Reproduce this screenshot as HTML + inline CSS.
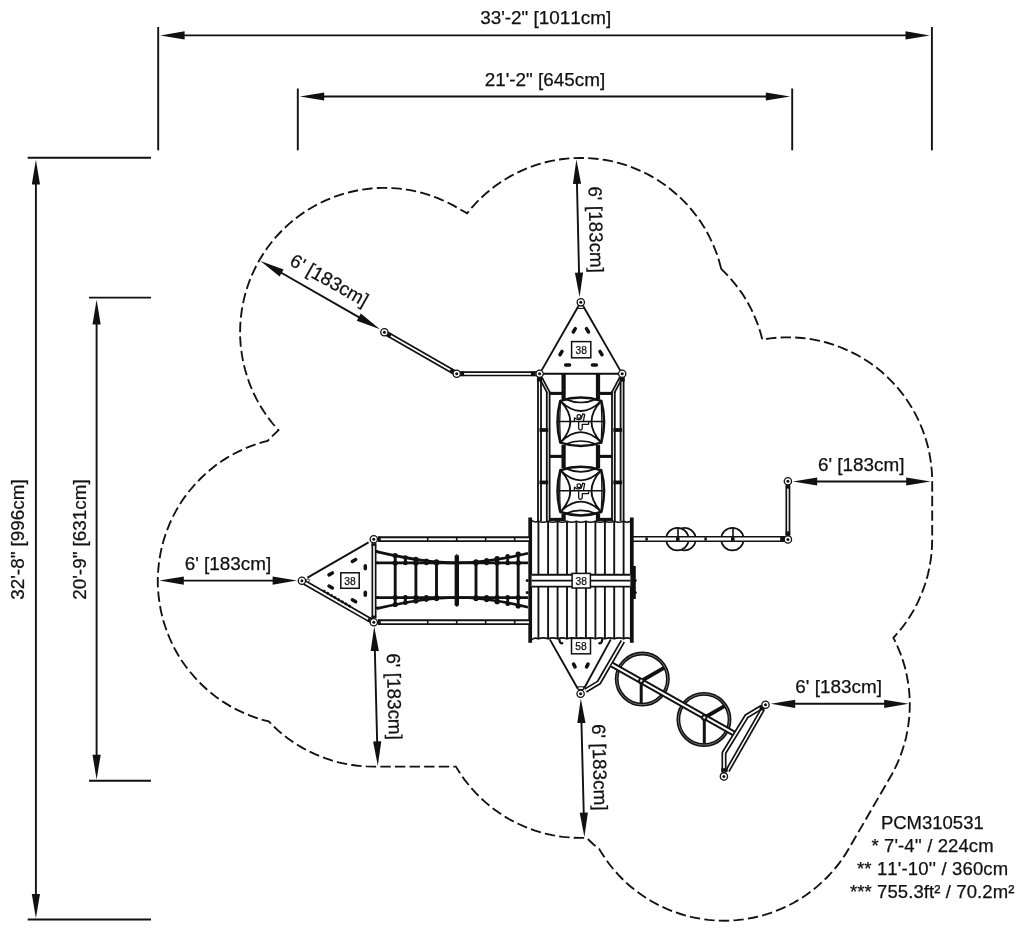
<!DOCTYPE html>
<html>
<head>
<meta charset="utf-8">
<title>PCM310531 Plan</title>
<style>
html,body{margin:0;padding:0;background:#fff;}
body{width:1024px;height:928px;overflow:hidden;font-family:"Liberation Sans",sans-serif;}
svg{display:block;filter:grayscale(1);}
svg text{font-family:"Liberation Sans",sans-serif;fill:#111;stroke:#111;stroke-width:0.25px;font-kerning:none;}
.dim{stroke:#111;stroke-width:1.9;fill:none;}
.arr{fill:#111;stroke:none;}
.t{font-size:18.9px;}
.t6{font-size:18.9px;}
.info{font-size:18.5px;}
</style>
</head>
<body>
<svg width="1024" height="928" viewBox="0 0 1024 928">
<rect width="1024" height="928" fill="#fff"/>
<g class="dim">
<line x1="158.2" y1="27" x2="158.2" y2="150.3"/>
<line x1="931.9" y1="27" x2="931.9" y2="150.3"/>
<line x1="180" y1="35.4" x2="910" y2="35.4"/>
<line x1="297.8" y1="88.5" x2="297.8" y2="150.3"/>
<line x1="792.2" y1="88.5" x2="792.2" y2="150.3"/>
<line x1="320" y1="96.5" x2="770" y2="96.5"/>
<line x1="27.7" y1="157.8" x2="151" y2="157.8"/>
<line x1="27.7" y1="919.5" x2="151" y2="919.5"/>
<line x1="35.9" y1="180" x2="35.9" y2="900"/>
<line x1="89" y1="297.6" x2="151" y2="297.6"/>
<line x1="89" y1="780.8" x2="151" y2="780.8"/>
<line x1="96.6" y1="320" x2="96.6" y2="760"/>
</g>
<g class="arr">
<path d="M160.3 35.4 L184.6 31.3 L184.6 39.5 Z"/>
<path d="M929.8 35.4 L905.5 31.3 L905.5 39.5 Z"/>
<path d="M299.9 96.5 L324.2 92.4 L324.2 100.6 Z"/>
<path d="M790.1 96.5 L765.8 92.4 L765.8 100.6 Z"/>
<path d="M35.9 159.8 L31.8 184.6 L40 184.6 Z"/>
<path d="M35.9 918.2 L31.8 894 L40 894 Z"/>
<path d="M96.6 299.8 L92.5 324.5 L100.7 324.5 Z"/>
<path d="M96.6 779.5 L92.5 754.8 L100.7 754.8 Z"/>
</g>
<g class="t">
<text x="545.7" y="24.3" text-anchor="middle">33'-2" [1011cm]</text>
<text x="545" y="86" text-anchor="middle">21'-2" [645cm]</text>
<text transform="translate(24.2 539.5) rotate(-90)" text-anchor="middle">32'-8" [996cm]</text>
<text transform="translate(85.8 539.5) rotate(-90)" text-anchor="middle">20'-9" [631cm]</text>
</g>
<path id="outline" d="M721.2 268.8 L718.9 260.3 L717.8 256.9 L716.7 253.6 L714.1 247.0 L712.7 243.7 L709.7 237.3 L706.4 231.1 L704.6 228.0 L700.8 222.0 L698.8 219.1 L696.7 216.2 L692.3 210.7 L687.7 205.3 L685.3 202.7 L680.3 197.7 L677.7 195.3 L672.3 190.7 L666.8 186.3 L663.9 184.2 L658.0 180.3 L651.9 176.6 L648.8 174.9 L645.7 173.3 L639.3 170.3 L632.7 167.6 L629.4 166.3 L622.7 164.1 L619.3 163.1 L612.4 161.4 L609.0 160.7 L605.5 160.0 L598.5 159.0 L591.4 158.3 L587.9 158.1 L580.8 157.9 L573.7 158.1 L566.7 158.6 L563.1 159.0 L559.6 159.5 L552.6 160.7 L549.2 161.4 L542.3 163.1 L535.5 165.2 L528.9 167.6 L525.6 168.9 L519.1 171.8 L515.9 173.3 L509.7 176.6 L503.6 180.3 L500.6 182.2 L494.8 186.3 L489.3 190.7 L486.5 192.9 L481.3 197.7 L476.3 202.7 L473.9 205.3 L471.5 207.9 L467.1 213.3 L453.3 205.4 L447.0 202.2 L440.5 199.3 L437.2 197.9 L430.6 195.5 L427.2 194.4 L423.8 193.4 L417.0 191.6 L410.0 190.2 L406.5 189.6 L399.5 188.7 L392.4 188.1 L385.4 187.9 L381.8 187.9 L378.3 188.0 L371.2 188.5 L364.2 189.3 L360.7 189.9 L357.2 190.5 L350.3 192.0 L343.4 193.8 L340.1 194.9 L333.4 197.2 L326.8 199.9 L323.6 201.3 L317.2 204.5 L314.1 206.2 L308.0 209.8 L305.0 211.7 L299.2 215.7 L293.6 220.0 L288.2 224.6 L283.1 229.5 L280.6 232.0 L275.8 237.2 L271.2 242.7 L267.0 248.3 L263.0 254.2 L259.3 260.2 L255.9 266.5 L252.9 272.8 L250.1 279.4 L247.7 286.0 L245.6 292.8 L243.8 299.6 L243.1 303.1 L241.8 310.1 L240.9 317.1 L240.3 324.2 L240.1 331.2 L240.2 338.3 L240.7 345.4 L241.1 348.9 L242.1 355.9 L243.4 362.9 L245.1 369.8 L247.1 376.5 L249.4 383.2 L252.1 389.8 L253.5 393.0 L256.7 399.4 L260.1 405.6 L263.9 411.6 L267.9 417.4 L272.2 423.0 L278.5 430.2 L274.1 434.3 L267.6 440.9 L263.6 441.9 L256.8 444.0 L250.2 446.4 L246.9 447.7 L240.4 450.6 L234.1 453.7 L231.0 455.4 L224.9 459.1 L221.9 461.0 L216.1 465.1 L210.6 469.5 L205.2 474.1 L200.1 479.0 L195.2 484.1 L190.6 489.5 L188.3 492.2 L184.1 497.9 L182.1 500.8 L180.2 503.8 L176.5 509.9 L173.2 516.1 L170.2 522.5 L168.8 525.8 L166.2 532.4 L165.1 535.7 L164.0 539.1 L162.1 545.9 L160.6 552.8 L159.4 559.8 L158.9 563.3 L158.2 570.4 L157.8 577.5 L157.8 584.5 L158.0 588.1 L158.5 595.1 L159.4 602.2 L160.6 609.2 L162.1 616.1 L164.0 622.9 L165.1 626.3 L167.5 632.9 L170.2 639.5 L173.2 645.9 L174.8 649.0 L178.3 655.2 L182.1 661.2 L186.2 667.0 L190.6 672.5 L195.2 677.9 L200.1 683.0 L202.6 685.5 L207.8 690.3 L213.3 694.8 L216.1 696.9 L221.9 701.0 L224.9 702.9 L231.0 706.6 L237.2 709.9 L243.6 712.9 L250.2 715.6 L256.8 718.0 L263.6 720.1 L268.7 721.4 L274.1 726.8 L279.3 731.6 L282.1 733.8 L287.6 738.2 L293.4 742.3 L296.4 744.2 L302.5 747.9 L308.7 751.2 L315.1 754.2 L321.7 756.9 L325.0 758.2 L331.7 760.4 L338.5 762.3 L342.0 763.1 L348.9 764.5 L352.4 765.0 L355.9 765.5 L363.0 766.2 L366.5 766.4 L373.6 766.6 L455.9 766.6 L460.4 773.8 L464.5 779.6 L468.9 785.1 L471.1 787.9 L475.9 793.1 L480.9 798.1 L486.1 802.9 L491.6 807.4 L494.4 809.5 L500.2 813.6 L506.2 817.4 L509.3 819.2 L512.4 820.9 L518.7 824.0 L525.2 826.9 L528.5 828.2 L535.1 830.6 L541.9 832.7 L545.3 833.6 L552.2 835.1 L559.2 836.3 L562.7 836.8 L566.3 837.2 L573.3 837.7 L580.4 837.9 L586.5 837.8 L593.3 844.2 L599.4 849.3 L601.2 852.3 L605.1 858.3 L609.2 864.0 L613.7 869.5 L618.4 874.8 L623.3 879.9 L628.5 884.7 L631.2 887.0 L634.0 889.2 L639.6 893.5 L645.4 897.5 L651.5 901.2 L657.7 904.6 L660.9 906.2 L667.3 909.1 L673.9 911.8 L680.6 914.0 L687.4 916.0 L690.8 916.9 L694.3 917.6 L701.3 918.9 L708.3 919.9 L711.8 920.2 L718.9 920.6 L726.0 920.7 L733.0 920.4 L736.6 920.1 L743.6 919.3 L747.1 918.8 L754.1 917.5 L761.0 915.9 L767.7 913.9 L771.1 912.8 L774.4 911.6 L781.0 908.9 L787.4 906.0 L793.7 902.7 L796.8 900.9 L799.8 899.1 L805.8 895.2 L811.5 891.1 L817.0 886.6 L822.3 881.9 L827.4 877.0 L829.8 874.4 L834.5 869.1 L838.9 863.6 L841.0 860.7 L845.0 854.9 L848.7 848.8 L892.1 774.0 L895.3 767.7 L896.8 764.5 L899.6 758.0 L902.0 751.4 L904.2 744.6 L906.0 737.8 L907.4 730.8 L908.5 723.8 L909.3 716.8 L909.7 709.7 L909.8 702.6 L909.5 695.6 L908.9 688.5 L907.9 681.5 L906.6 674.5 L905.0 667.6 L903.0 660.9 L900.7 654.2 L898.0 647.6 L895.1 641.2 L893.4 637.9 L899.4 630.9 L901.7 628.2 L905.9 622.5 L907.9 619.6 L911.7 613.6 L913.5 610.5 L916.8 604.3 L918.3 601.1 L921.2 594.6 L922.5 591.3 L924.9 584.7 L926.0 581.3 L927.9 574.5 L929.4 567.6 L930.6 560.6 L931.5 553.5 L932.0 546.5 L932.2 539.4 L932.2 478.1 L931.8 471.0 L931.1 463.9 L930.6 460.4 L929.4 453.4 L927.9 446.5 L926.0 439.7 L924.9 436.3 L922.5 429.7 L919.8 423.1 L918.3 419.9 L915.2 413.6 L911.7 407.4 L907.9 401.4 L903.8 395.6 L901.7 392.8 L897.2 387.3 L892.4 382.1 L887.4 377.1 L884.8 374.7 L882.2 372.3 L876.7 367.8 L871.0 363.6 L865.1 359.7 L859.0 356.0 L855.9 354.3 L849.6 351.2 L843.1 348.3 L839.8 347.0 L833.2 344.6 L826.4 342.5 L819.5 340.8 L812.6 339.4 L805.6 338.4 L802.0 338.0 L795.0 337.5 L791.4 337.3 L784.4 337.3 L777.3 337.7 L770.2 338.4 L762.4 339.6 L760.3 331.9 L758.1 325.2 L756.8 321.9 L754.1 315.3 L752.6 312.1 L751.1 308.9 L747.8 302.7 L744.1 296.6 L742.2 293.6 L738.1 287.8 L733.7 282.3 L729.1 276.9 L724.2 271.8 Z" fill="none" stroke="#111" stroke-width="1.85" stroke-dasharray="10.4 4.2"/>
<g id="equip" stroke-linecap="butt">
<path d="M384.4 332.2 L456.7 373.8 L539.6 373.8" fill="none" stroke="#111" stroke-width="5.09" stroke-linejoin="round"/>
<path d="M384.4 332.2 L456.7 373.8 L539.6 373.8" fill="none" stroke="#fff" stroke-width="1.71" stroke-linejoin="round"/>
<circle cx="677.4" cy="539.1" r="11.3" fill="none" stroke="#111" stroke-width="1.7"/>
<path d="M680.9 528.5 A11.2 11.2 0 1 1 680.9 549.7" fill="none" stroke="#111" stroke-width="1.7"/>
<circle cx="732.4" cy="539.1" r="11.3" fill="none" stroke="#111" stroke-width="1.7"/>
<line x1="633.0" y1="539.0" x2="784.9" y2="539.0" stroke="#111" stroke-width="6.19" />
<line x1="633.0" y1="539.0" x2="784.9" y2="539.0" stroke="#fff" stroke-width="2.81" />
<rect x="780.2" y="536.2" width="4" height="5.6" fill="#111"/>
<line x1="646.6" y1="537.4" x2="646.6" y2="540.6" stroke="#111" stroke-width="2.5" />
<line x1="705.6" y1="537.4" x2="705.6" y2="540.6" stroke="#111" stroke-width="2.5" />
<line x1="787.9" y1="485.2" x2="787.9" y2="535.4" stroke="#111" stroke-width="4.89" />
<line x1="787.9" y1="485.2" x2="787.9" y2="535.4" stroke="#fff" stroke-width="1.51" />
<line x1="678.0" y1="528.2" x2="678.0" y2="537.0" stroke="#111" stroke-width="1.62" />
<rect x="676.0" y="537.2" width="3.6" height="3.6" fill="#111"/>
<line x1="733.0" y1="528.2" x2="733.0" y2="537.0" stroke="#111" stroke-width="1.62" />
<rect x="731.0" y="537.2" width="3.6" height="3.6" fill="#111"/>
<path d="M578.5999999999999 305.8 L541.6 370.40000000000003 M583.0 305.8 L620.2 370.40000000000003 M543.1 373.7 L618.7 373.7" stroke="#111" stroke-width="1.9" fill="none"/>
<rect x="578.1999999999999" y="305.8" width="5.2" height="2.6" fill="#fff" stroke="#111" stroke-width="1"/>
<rect x="571.6" y="341.6" width="19.2" height="16.2" fill="#fff" stroke="#111" stroke-width="1.5"/>
<text x="581.2" y="354.0" font-size="10.2" text-anchor="middle" fill="#222">38</text>
<rect x="-3.70" y="-1.75" width="7.4" height="3.5" rx="1.75" fill="#111" transform="translate(574.3 330.3) rotate(-58)"/>
<rect x="-3.70" y="-1.75" width="7.4" height="3.5" rx="1.75" fill="#111" transform="translate(587.5 330.3) rotate(58)"/>
<rect x="-3.70" y="-1.75" width="7.4" height="3.5" rx="1.75" fill="#111" transform="translate(561.0 353.1) rotate(-58)"/>
<rect x="-3.70" y="-1.75" width="7.4" height="3.5" rx="1.75" fill="#111" transform="translate(601.0 353.1) rotate(58)"/>
<rect x="-3.70" y="-1.75" width="7.4" height="3.5" rx="1.75" fill="#111" transform="translate(567.6 365.0) rotate(0)"/>
<rect x="-3.70" y="-1.75" width="7.4" height="3.5" rx="1.75" fill="#111" transform="translate(594.4 365.0) rotate(0)"/>
<line x1="539.5" y1="377.0" x2="539.5" y2="521.0" stroke="#111" stroke-width="4.82" />
<line x1="539.5" y1="377.0" x2="539.5" y2="521.0" stroke="#fff" stroke-width="1.18" />
<line x1="548.2" y1="391.0" x2="548.2" y2="521.0" stroke="#111" stroke-width="4.62" />
<line x1="548.2" y1="391.0" x2="548.2" y2="521.0" stroke="#fff" stroke-width="0.98" />
<line x1="540.8" y1="378.0" x2="548.2" y2="392.0" stroke="#111" stroke-width="4.29" />
<line x1="540.8" y1="378.0" x2="548.2" y2="392.0" stroke="#fff" stroke-width="0.91" />
<line x1="563.6" y1="373.0" x2="563.6" y2="399.0" stroke="#111" stroke-width="4.25" />
<line x1="563.6" y1="445.0" x2="563.6" y2="468.0" stroke="#111" stroke-width="4.25" />
<line x1="563.6" y1="514.0" x2="563.6" y2="521.0" stroke="#111" stroke-width="4.25" />
<line x1="549.2" y1="393.4" x2="563.6" y2="393.4" stroke="#111" stroke-width="3.12" />
<line x1="549.2" y1="456.4" x2="563.6" y2="456.4" stroke="#111" stroke-width="3.12" />
<line x1="549.2" y1="519.4" x2="563.6" y2="519.4" stroke="#111" stroke-width="3.12" />
<line x1="539.5" y1="430.0" x2="548.2" y2="430.0" stroke="#111" stroke-width="3.75" />
<line x1="539.5" y1="482.4" x2="548.2" y2="482.4" stroke="#111" stroke-width="3.75" />
<line x1="622.1" y1="377.0" x2="622.1" y2="521.0" stroke="#111" stroke-width="4.82" />
<line x1="622.1" y1="377.0" x2="622.1" y2="521.0" stroke="#fff" stroke-width="1.18" />
<line x1="613.4" y1="391.0" x2="613.4" y2="521.0" stroke="#111" stroke-width="4.62" />
<line x1="613.4" y1="391.0" x2="613.4" y2="521.0" stroke="#fff" stroke-width="0.98" />
<line x1="620.8" y1="378.0" x2="613.4" y2="392.0" stroke="#111" stroke-width="4.29" />
<line x1="620.8" y1="378.0" x2="613.4" y2="392.0" stroke="#fff" stroke-width="0.91" />
<line x1="598.0" y1="373.0" x2="598.0" y2="399.0" stroke="#111" stroke-width="4.25" />
<line x1="598.0" y1="445.0" x2="598.0" y2="468.0" stroke="#111" stroke-width="4.25" />
<line x1="598.0" y1="514.0" x2="598.0" y2="521.0" stroke="#111" stroke-width="4.25" />
<line x1="612.4" y1="393.4" x2="598.0" y2="393.4" stroke="#111" stroke-width="3.12" />
<line x1="612.4" y1="456.4" x2="598.0" y2="456.4" stroke="#111" stroke-width="3.12" />
<line x1="612.4" y1="519.4" x2="598.0" y2="519.4" stroke="#111" stroke-width="3.12" />
<line x1="622.1" y1="430.0" x2="613.4" y2="430.0" stroke="#111" stroke-width="3.75" />
<line x1="622.1" y1="482.4" x2="613.4" y2="482.4" stroke="#111" stroke-width="3.75" />
<rect x="536.9" y="377.6" width="5.2" height="4" fill="#111"/>
<rect x="619.5" y="377.6" width="5.2" height="4" fill="#111"/>
<path d="M560.3 400.9 Q580.8 394.1 601.3 400.9 Q606.9 421.75 601.3 442.6 Q580.8 449.4 560.3 442.6 Q554.7 421.75 560.3 400.9 Z" fill="#fff" stroke="#111" stroke-width="2.5" stroke-linejoin="round"/>
<path d="M565.4 399.1 Q580.8 405.9 596.2 399.1 M565.4 444.4 Q580.8 437.6 596.2 444.4" fill="none" stroke="#111" stroke-width="1.7"/>
<path d="M560.3 400.9 Q580.8 421.2 601.3 400.9 M560.3 442.6 Q580.8 421.8 601.3 442.6 M560.3 400.9 Q580.3 421.75 560.3 442.6 M601.3 400.9 Q581.7 421.75 601.3 442.6" fill="none" stroke="#111" stroke-width="1.8"/>
<path d="M560.3 402.9 Q559.1 421.75 560.3 440.6 M601.3 402.9 Q602.5 421.75 601.3 440.6" fill="none" stroke="#111" stroke-width="1.3"/>
<line x1="557.1" y1="421.4" x2="604.5" y2="421.4" stroke="#111" stroke-width="1.5"/>
<circle cx="578.95" cy="416.40" r="1.9" fill="none" stroke="#111" stroke-width="1.25"/>
<path d="M574.30 421.15 L574.50 417.85 L576.90 419.25 Q579.30 420.15 581.20 418.65 L582.70 413.85 L584.70 414.35 L583.40 421.15" fill="none" stroke="#111" stroke-width="1.3" stroke-linejoin="round"/>
<path d="M578.65 421.95 L578.65 428.25 Q578.65 430.05 580.45 430.05 Q582.25 430.05 582.25 428.25 L582.25 424.35 L588.40 424.25 L588.80 422.15" fill="none" stroke="#111" stroke-width="1.3" stroke-linejoin="round"/>
<path d="M560.3 470.2 Q580.8 463.4 601.3 470.2 Q606.9 491.1 601.3 512.0 Q580.8 518.8 560.3 512.0 Q554.7 491.1 560.3 470.2 Z" fill="#fff" stroke="#111" stroke-width="2.5" stroke-linejoin="round"/>
<path d="M565.4 468.4 Q580.8 475.2 596.2 468.4 M565.4 513.8 Q580.8 507.0 596.2 513.8" fill="none" stroke="#111" stroke-width="1.7"/>
<path d="M560.3 470.2 Q580.8 490.6 601.3 470.2 M560.3 512.0 Q580.8 491.2 601.3 512.0 M560.3 470.2 Q580.3 491.1 560.3 512.0 M601.3 470.2 Q581.7 491.1 601.3 512.0" fill="none" stroke="#111" stroke-width="1.8"/>
<path d="M560.3 472.2 Q559.1 491.1 560.3 510.0 M601.3 472.2 Q602.5 491.1 601.3 510.0" fill="none" stroke="#111" stroke-width="1.3"/>
<line x1="557.1" y1="490.8" x2="604.5" y2="490.8" stroke="#111" stroke-width="1.5"/>
<circle cx="578.95" cy="485.75" r="1.9" fill="none" stroke="#111" stroke-width="1.25"/>
<path d="M574.30 490.50 L574.50 487.20 L576.90 488.60 Q579.30 489.50 581.20 488.00 L582.70 483.20 L584.70 483.70 L583.40 490.50" fill="none" stroke="#111" stroke-width="1.3" stroke-linejoin="round"/>
<path d="M578.65 491.30 L578.65 497.60 Q578.65 499.40 580.45 499.40 Q582.25 499.40 582.25 497.60 L582.25 493.70 L588.40 493.60 L588.80 491.50" fill="none" stroke="#111" stroke-width="1.3" stroke-linejoin="round"/>
<rect x="531" y="521.8" width="100" height="116.6" fill="#fff"/>
<line x1="538.4" y1="521.5" x2="538.4" y2="638.5" stroke="#111" stroke-width="1.88" />
<line x1="548.1" y1="521.5" x2="548.1" y2="638.5" stroke="#111" stroke-width="1.88" />
<line x1="557.6" y1="521.5" x2="557.6" y2="638.5" stroke="#111" stroke-width="1.88" />
<line x1="567.0" y1="521.5" x2="567.0" y2="638.5" stroke="#111" stroke-width="1.88" />
<line x1="576.4" y1="521.5" x2="576.4" y2="638.5" stroke="#111" stroke-width="1.88" />
<line x1="585.9" y1="521.5" x2="585.9" y2="638.5" stroke="#111" stroke-width="1.88" />
<line x1="595.4" y1="521.5" x2="595.4" y2="638.5" stroke="#111" stroke-width="1.88" />
<line x1="604.9" y1="521.5" x2="604.9" y2="638.5" stroke="#111" stroke-width="1.88" />
<line x1="614.2" y1="521.5" x2="614.2" y2="638.5" stroke="#111" stroke-width="1.88" />
<line x1="623.6" y1="521.5" x2="623.6" y2="638.5" stroke="#111" stroke-width="1.88" />
<path d="M531.5 520.4 Q535.0 523.1 538.4 521.3 Q543.2 523.1 548.1 521.3 Q552.9 523.1 557.6 521.3 Q562.3 523.1 567 521.3 Q571.7 523.1 576.4 521.3 Q581.1 523.1 585.9 521.3 Q590.6 523.1 595.4 521.3 Q600.1 523.1 604.9 521.3 Q609.5 523.1 614.2 521.3 Q618.9 523.1 623.6 521.3 Q627.0 523.1 630.5 521.3" fill="none" stroke="#111" stroke-width="1.6"/>
<path d="M531.5 639.7 Q535.0 637.0 538.4 638.8 Q543.2 637.0 548.1 638.8 Q552.9 637.0 557.6 638.8 Q562.3 637.0 567 638.8 Q571.7 637.0 576.4 638.8 Q581.1 637.0 585.9 638.8 Q590.6 637.0 595.4 638.8 Q600.1 637.0 604.9 638.8 Q609.5 637.0 614.2 638.8 Q618.9 637.0 623.6 638.8 Q627.0 637.0 630.5 638.8" fill="none" stroke="#111" stroke-width="1.6"/>
<line x1="530.2" y1="517.5" x2="530.2" y2="642.8" stroke="#111" stroke-width="3.75" />
<line x1="631.8" y1="517.5" x2="631.8" y2="642.8" stroke="#111" stroke-width="3.75" />
<line x1="634.3" y1="566.0" x2="634.3" y2="599.0" stroke="#111" stroke-width="3.0" />
<circle cx="527.2" cy="580.6" r="1.5" fill="#111"/><circle cx="527.2" cy="592.6" r="1.5" fill="#111"/><circle cx="635.4" cy="580.6" r="1.4" fill="#111"/><circle cx="635.4" cy="592.6" r="1.4" fill="#111"/>
<rect x="531.6" y="574.4" width="98.8" height="12.4" fill="#fff"/>
<line x1="531.6" y1="574.8" x2="630.4" y2="574.8" stroke="#111" stroke-width="1.88" />
<line x1="531.6" y1="580.6" x2="630.4" y2="580.6" stroke="#111" stroke-width="1.88" />
<line x1="531.6" y1="586.6" x2="630.4" y2="586.6" stroke="#111" stroke-width="1.88" />
<rect x="572.1" y="573.4" width="18.3" height="14.6" fill="#fff" stroke="#111" stroke-width="1.5"/>
<text x="581.2" y="585.0" font-size="10.2" text-anchor="middle" fill="#222">38</text>
<path d="M549.8 639.4 L577.8000000000001 688.8 M610.8 639.4 L584.2 688.1999999999999" stroke="#111" stroke-width="1.9" fill="none"/>
<rect x="571.5" y="638.4" width="19.0" height="15.4" fill="#fff" stroke="#111" stroke-width="1.5"/>
<text x="581.0" y="650.4" font-size="10.2" text-anchor="middle" fill="#222">58</text>
<rect x="-3.30" y="-1.80" width="6.6" height="3.6" rx="1.8" fill="#111" transform="translate(574.3 665.5) rotate(62)"/>
<rect x="-3.30" y="-1.80" width="6.6" height="3.6" rx="1.8" fill="#111" transform="translate(587.3 665.5) rotate(-62)"/>
<path d="M559.4 639.5 Q559.8 644 562.2 643.2" stroke="#111" stroke-width="2.3" fill="none" stroke-linecap="round"/><path d="M602.2 639.5 Q601.8 644 599.4 643.2" stroke="#111" stroke-width="2.3" fill="none" stroke-linecap="round"/>
<path d="M622.8 641.2 L598.8 682.6 L585.5 690.6" fill="none" stroke="#111" stroke-width="5.09" stroke-linejoin="round"/>
<path d="M622.8 641.2 L598.8 682.6 L585.5 690.6" fill="none" stroke="#fff" stroke-width="1.71" stroke-linejoin="round"/>
<rect x="578.0" y="686.8" width="5.6" height="2.6" fill="#fff" stroke="#111" stroke-width="1"/>
<line x1="377.8" y1="539.2" x2="529.0" y2="539.2" stroke="#111" stroke-width="5.72" />
<line x1="377.8" y1="539.2" x2="529.0" y2="539.2" stroke="#fff" stroke-width="2.08" />
<line x1="377.8" y1="622.2" x2="529.0" y2="622.2" stroke="#111" stroke-width="5.72" />
<line x1="377.8" y1="622.2" x2="529.0" y2="622.2" stroke="#fff" stroke-width="2.08" />
<line x1="378.7" y1="539.2" x2="380.3" y2="539.2" stroke="#111" stroke-width="3.25" />
<line x1="378.7" y1="622.2" x2="380.3" y2="622.2" stroke="#111" stroke-width="3.25" />
<line x1="426.9" y1="539.2" x2="428.5" y2="539.2" stroke="#111" stroke-width="3.25" />
<line x1="426.9" y1="622.2" x2="428.5" y2="622.2" stroke="#111" stroke-width="3.25" />
<line x1="455.9" y1="539.2" x2="457.5" y2="539.2" stroke="#111" stroke-width="3.25" />
<line x1="455.9" y1="622.2" x2="457.5" y2="622.2" stroke="#111" stroke-width="3.25" />
<line x1="484.9" y1="539.2" x2="486.5" y2="539.2" stroke="#111" stroke-width="3.25" />
<line x1="484.9" y1="622.2" x2="486.5" y2="622.2" stroke="#111" stroke-width="3.25" />
<line x1="513.9" y1="539.2" x2="515.5" y2="539.2" stroke="#111" stroke-width="3.25" />
<line x1="513.9" y1="622.2" x2="515.5" y2="622.2" stroke="#111" stroke-width="3.25" />
<line x1="374.0" y1="543.2" x2="374.0" y2="618.2" stroke="#111" stroke-width="4.99" />
<line x1="374.0" y1="543.2" x2="374.0" y2="618.2" stroke="#fff" stroke-width="1.61" />
<line x1="376.5" y1="562.9" x2="528.0" y2="562.9" stroke="#111" stroke-width="2.75" />
<line x1="376.5" y1="597.5" x2="528.0" y2="597.5" stroke="#111" stroke-width="2.75" />
<path d="M376.5 551.6 Q425 562.9 456.8 562.9 Q488 562.9 528 553.2" fill="none" stroke="#111" stroke-width="2.7"/>
<path d="M376.5 608.6 Q425 597.5 456.8 597.5 Q488 597.5 528 607.2" fill="none" stroke="#111" stroke-width="2.7"/>
<line x1="395.2" y1="554.1" x2="395.2" y2="606.0" stroke="#111" stroke-width="2.88" />
<circle cx="395.2" cy="555.6" r="2.6" fill="#111"/>
<circle cx="395.2" cy="562.9" r="2.6" fill="#111"/>
<circle cx="395.2" cy="597.5" r="2.6" fill="#111"/>
<circle cx="395.2" cy="604.5" r="2.6" fill="#111"/>
<line x1="415.9" y1="557.8" x2="415.9" y2="602.5" stroke="#111" stroke-width="2.88" />
<circle cx="415.9" cy="559.3" r="2.6" fill="#111"/>
<circle cx="415.9" cy="562.9" r="2.6" fill="#111"/>
<circle cx="415.9" cy="597.5" r="2.6" fill="#111"/>
<circle cx="415.9" cy="601.0" r="2.6" fill="#111"/>
<line x1="436.5" y1="560.4" x2="436.5" y2="600.0" stroke="#111" stroke-width="2.88" />
<circle cx="436.5" cy="561.9" r="2.6" fill="#111"/>
<circle cx="436.5" cy="562.9" r="2.6" fill="#111"/>
<circle cx="436.5" cy="597.5" r="2.6" fill="#111"/>
<circle cx="436.5" cy="598.5" r="2.6" fill="#111"/>
<line x1="476.0" y1="560.3" x2="476.0" y2="600.1" stroke="#111" stroke-width="2.88" />
<circle cx="476" cy="561.8" r="2.6" fill="#111"/>
<circle cx="476" cy="562.9" r="2.6" fill="#111"/>
<circle cx="476" cy="597.5" r="2.6" fill="#111"/>
<circle cx="476" cy="598.6" r="2.6" fill="#111"/>
<line x1="497.1" y1="557.1" x2="497.1" y2="603.2" stroke="#111" stroke-width="2.88" />
<circle cx="497.1" cy="558.6" r="2.6" fill="#111"/>
<circle cx="497.1" cy="562.9" r="2.6" fill="#111"/>
<circle cx="497.1" cy="597.5" r="2.6" fill="#111"/>
<circle cx="497.1" cy="601.7" r="2.6" fill="#111"/>
<line x1="518.2" y1="552.6" x2="518.2" y2="607.5" stroke="#111" stroke-width="2.88" />
<circle cx="518.2" cy="554.1" r="2.6" fill="#111"/>
<circle cx="518.2" cy="562.9" r="2.6" fill="#111"/>
<circle cx="518.2" cy="597.5" r="2.6" fill="#111"/>
<circle cx="518.2" cy="606.0" r="2.6" fill="#111"/>
<line x1="456.8" y1="555.6" x2="456.8" y2="605.2" stroke="#111" stroke-width="4.38" />
<path d="M454.6 555.8 L456.8 553.9 L459.0 555.8 Z M454.6 605 L456.8 606.9 L459.0 605 Z" fill="#111"/>
<line x1="405.4" y1="556.6" x2="405.4" y2="563.9" stroke="#111" stroke-width="2.75" />
<line x1="405.4" y1="596.5" x2="405.4" y2="603.7" stroke="#111" stroke-width="2.75" />
<circle cx="405.4" cy="557.6" r="2.4" fill="#111"/>
<circle cx="405.4" cy="562.9" r="2.4" fill="#111"/>
<circle cx="405.4" cy="597.5" r="2.4" fill="#111"/>
<circle cx="405.4" cy="602.7" r="2.4" fill="#111"/>
<line x1="426.4" y1="559.8" x2="426.4" y2="563.9" stroke="#111" stroke-width="2.75" />
<line x1="426.4" y1="596.5" x2="426.4" y2="600.5" stroke="#111" stroke-width="2.75" />
<circle cx="426.4" cy="560.8" r="2.4" fill="#111"/>
<circle cx="426.4" cy="562.9" r="2.4" fill="#111"/>
<circle cx="426.4" cy="597.5" r="2.4" fill="#111"/>
<circle cx="426.4" cy="599.5" r="2.4" fill="#111"/>
<line x1="486.6" y1="559.4" x2="486.6" y2="563.9" stroke="#111" stroke-width="2.75" />
<line x1="486.6" y1="596.5" x2="486.6" y2="600.9" stroke="#111" stroke-width="2.75" />
<circle cx="486.6" cy="560.4" r="2.4" fill="#111"/>
<circle cx="486.6" cy="562.9" r="2.4" fill="#111"/>
<circle cx="486.6" cy="597.5" r="2.4" fill="#111"/>
<circle cx="486.6" cy="599.9" r="2.4" fill="#111"/>
<line x1="507.7" y1="555.4" x2="507.7" y2="563.9" stroke="#111" stroke-width="2.75" />
<line x1="507.7" y1="596.5" x2="507.7" y2="604.7" stroke="#111" stroke-width="2.75" />
<circle cx="507.7" cy="556.4" r="2.4" fill="#111"/>
<circle cx="507.7" cy="562.9" r="2.4" fill="#111"/>
<circle cx="507.7" cy="597.5" r="2.4" fill="#111"/>
<circle cx="507.7" cy="603.7" r="2.4" fill="#111"/>
<circle cx="377" cy="551.4" r="1.4" fill="#111"/>
<circle cx="377" cy="562.9" r="1.4" fill="#111"/>
<circle cx="377" cy="597.5" r="1.4" fill="#111"/>
<circle cx="377" cy="607.8" r="1.4" fill="#111"/>
<line x1="307.5" y1="577.6" x2="368.6" y2="542.4" stroke="#111" stroke-width="1.88" />
<line x1="304.4" y1="582.4" x2="371.3" y2="620.8" stroke="#111" stroke-width="5.29" />
<line x1="304.4" y1="582.4" x2="371.3" y2="620.8" stroke="#fff" stroke-width="1.91" />
<circle cx="307.9" cy="580.4" r="1.5" fill="#fff" stroke="#111" stroke-width="0.9"/>
<line x1="323" y1="590.5" x2="352" y2="607.5" stroke="#111" stroke-width="2.6" stroke-dasharray="2.6 1.6"/>
<rect x="340.8" y="572.8" width="18.4" height="15.5" fill="#fff" stroke="#111" stroke-width="1.5"/>
<text x="350.0" y="584.8" font-size="10.2" text-anchor="middle" fill="#222">38</text>
<rect x="-3.70" y="-1.75" width="7.4" height="3.5" rx="1.75" fill="#111" transform="translate(354.0 560.5) rotate(-30)"/>
<rect x="-3.20" y="-1.75" width="6.4" height="3.5" rx="1.75" fill="#111" transform="translate(365.3 567.2) rotate(90)"/>
<rect x="-3.70" y="-1.75" width="7.4" height="3.5" rx="1.75" fill="#111" transform="translate(330.7 573.9) rotate(-30)"/>
<rect x="-3.70" y="-1.75" width="7.4" height="3.5" rx="1.75" fill="#111" transform="translate(330.7 587.0) rotate(30)"/>
<rect x="-3.20" y="-1.75" width="6.4" height="3.5" rx="1.75" fill="#111" transform="translate(365.3 593.8) rotate(90)"/>
<rect x="-3.70" y="-1.75" width="7.4" height="3.5" rx="1.75" fill="#111" transform="translate(354.0 600.8) rotate(30)"/>
<circle cx="642.3" cy="679.1" r="25.6" fill="none" stroke="#111" stroke-width="3.8"/>
<circle cx="642.3" cy="679.1" r="25.6" fill="none" stroke="#9a9a9a" stroke-width="0.7"/>
<line x1="641.2" y1="681.0" x2="664.0" y2="667.9" stroke="#111" stroke-width="3.9"/>
<line x1="641.2" y1="681.0" x2="641.2" y2="703.5" stroke="#111" stroke-width="3.0"/>
<circle cx="703.95" cy="719.45" r="25.6" fill="none" stroke="#111" stroke-width="3.8"/>
<circle cx="703.95" cy="719.45" r="25.6" fill="none" stroke="#9a9a9a" stroke-width="0.7"/>
<line x1="704.3" y1="717.7" x2="724.4" y2="706.1" stroke="#111" stroke-width="3.9"/>
<line x1="704.3" y1="717.7" x2="704.3" y2="743.8" stroke="#111" stroke-width="3.0"/>
<line x1="611.9" y1="664.6" x2="734.2" y2="733.6" stroke="#111" stroke-width="5.95" />
<line x1="611.9" y1="664.6" x2="734.2" y2="733.6" stroke="#fff" stroke-width="2.05" />
<circle cx="641.2" cy="681.0" r="3.1" fill="#111"/><circle cx="641.2" cy="680.8" r="1.2" fill="#eee"/>
<circle cx="704.3" cy="717.7" r="3.1" fill="#111"/><circle cx="704.3" cy="717.5" r="1.2" fill="#eee"/>
<path d="M762.0 706.9 L746.6 716.2 L724.0 752.9 L724.0 772.4" fill="none" stroke="#111" stroke-width="5.09" stroke-linejoin="round"/>
<path d="M762.0 706.9 L746.6 716.2 L724.0 752.9 L724.0 772.4" fill="none" stroke="#fff" stroke-width="1.71" stroke-linejoin="round"/>
<line x1="762.9" y1="708.9" x2="727.5" y2="770.8" stroke="#111" stroke-width="4.89" />
<line x1="762.9" y1="708.9" x2="727.5" y2="770.8" stroke="#fff" stroke-width="1.51" />
<circle cx="762.1" cy="707.9000000000001" r="2.6" fill="#111"/>
<rect x="721.3" y="768.1999999999999" width="6.4" height="3.6" fill="#111"/>
<rect x="785.9" y="485.2" width="4" height="3.4" fill="#111"/><rect x="785.7" y="531.4" width="4.4" height="4" fill="#111"/>
<line x1="388.0" y1="334.3" x2="390.8" y2="335.9" stroke="#111" stroke-width="4.6"/>
<line x1="453.1" y1="371.7" x2="450.3" y2="370.1" stroke="#111" stroke-width="4.6"/>
<line x1="460.9" y1="373.8" x2="464.1" y2="373.8" stroke="#111" stroke-width="4.6"/>
<line x1="535.4" y1="373.8" x2="530.9" y2="373.8" stroke="#111" stroke-width="4.6"/>
<line x1="378.0" y1="539.2" x2="380.6" y2="539.2" stroke="#111" stroke-width="5"/>
<line x1="378.0" y1="622.2" x2="380.6" y2="622.2" stroke="#111" stroke-width="5"/>
<line x1="373.8" y1="543.4" x2="373.8" y2="545.8" stroke="#111" stroke-width="4.6"/>
<line x1="373.8" y1="618.0" x2="373.8" y2="615.6" stroke="#111" stroke-width="4.6"/>
<line x1="370.2" y1="620.1" x2="368.1" y2="618.9" stroke="#111" stroke-width="4.6"/>
<circle cx="580.8" cy="302.2" r="3.65" fill="#fff" stroke="#111" stroke-width="1.3"/><circle cx="580.8" cy="302.2" r="1.5" fill="#111"/>
<circle cx="384.4" cy="332.2" r="3.65" fill="#fff" stroke="#111" stroke-width="1.3"/><circle cx="384.4" cy="332.2" r="1.5" fill="#111"/>
<circle cx="456.7" cy="373.8" r="3.65" fill="#fff" stroke="#111" stroke-width="1.3"/><circle cx="456.7" cy="373.8" r="1.5" fill="#111"/>
<circle cx="539.6" cy="373.8" r="3.65" fill="#fff" stroke="#111" stroke-width="1.3"/><circle cx="539.6" cy="373.8" r="1.5" fill="#111"/>
<circle cx="622.2" cy="373.8" r="3.65" fill="#fff" stroke="#111" stroke-width="1.3"/><circle cx="622.2" cy="373.8" r="1.5" fill="#111"/>
<circle cx="787.9" cy="481.2" r="3.65" fill="#fff" stroke="#111" stroke-width="1.3"/><circle cx="787.9" cy="481.2" r="1.5" fill="#111"/>
<circle cx="787.9" cy="539.4" r="3.65" fill="#fff" stroke="#111" stroke-width="1.3"/><circle cx="787.9" cy="539.4" r="1.5" fill="#111"/>
<circle cx="301.9" cy="580.8" r="3.65" fill="#fff" stroke="#111" stroke-width="1.3"/><circle cx="301.9" cy="580.8" r="1.5" fill="#111"/>
<circle cx="373.8" cy="539.2" r="3.65" fill="#fff" stroke="#111" stroke-width="1.3"/><circle cx="373.8" cy="539.2" r="1.5" fill="#111"/>
<circle cx="373.8" cy="622.2" r="3.65" fill="#fff" stroke="#111" stroke-width="1.3"/><circle cx="373.8" cy="622.2" r="1.5" fill="#111"/>
<circle cx="580.6" cy="693.8" r="3.65" fill="#fff" stroke="#111" stroke-width="1.3"/><circle cx="580.6" cy="693.8" r="1.5" fill="#111"/>
<circle cx="765.5" cy="704.7" r="3.65" fill="#fff" stroke="#111" stroke-width="1.3"/><circle cx="765.5" cy="704.7" r="1.5" fill="#111"/>
<circle cx="723.9" cy="776.4" r="3.65" fill="#fff" stroke="#111" stroke-width="1.3"/><circle cx="723.9" cy="776.4" r="1.5" fill="#111"/>
</g>
<g id="dims6">
<line x1="576.9" y1="181.4" x2="579.1" y2="275.0" stroke="#111" stroke-width="1.9"/>
<path d="M576.4 159.4 L572.9 183.9 L581.1 183.7 Z" fill="#111"/>
<path d="M579.6 297.0 L574.9 272.7 L583.1 272.5 Z" fill="#111"/>
<text class="t6" transform="translate(589.4 229.8) rotate(88.7)" text-anchor="middle">6' [183cm]</text>
<line x1="279.5" y1="271.8" x2="360.9" y2="318.4" stroke="#111" stroke-width="1.9"/>
<path d="M260.4 260.9 L279.6 276.6 L283.6 269.5 Z" fill="#111"/>
<path d="M380.0 329.3 L356.8 320.7 L360.8 313.6 Z" fill="#111"/>
<text class="t6" transform="translate(326.2 285.8) rotate(29.4)" text-anchor="middle">6' [183cm]</text>
<line x1="814.8" y1="481.5" x2="908.6" y2="481.5" stroke="#111" stroke-width="1.9"/>
<path d="M792.8 481.5 L817.2 485.6 L817.2 477.4 Z" fill="#111"/>
<path d="M930.6 481.5 L906.2 485.6 L906.2 477.4 Z" fill="#111"/>
<text class="t6" transform="translate(861.2 470.8) rotate(0)" text-anchor="middle">6' [183cm]</text>
<line x1="181.4" y1="580.6" x2="275.0" y2="580.6" stroke="#111" stroke-width="1.9"/>
<path d="M159.4 580.6 L183.8 584.7 L183.8 576.5 Z" fill="#111"/>
<path d="M297.0 580.6 L272.6 584.7 L272.6 576.5 Z" fill="#111"/>
<text class="t6" transform="translate(228.0 569.6) rotate(0)" text-anchor="middle">6' [183cm]</text>
<line x1="374.8" y1="648.6" x2="377.2" y2="743.8" stroke="#111" stroke-width="1.9"/>
<path d="M374.2 626.6 L370.7 651.1 L378.9 650.9 Z" fill="#111"/>
<path d="M377.8 765.8 L373.1 741.5 L381.3 741.3 Z" fill="#111"/>
<text class="t6" transform="translate(387.8 696.8) rotate(88.5)" text-anchor="middle">6' [183cm]</text>
<line x1="581.4" y1="720.6" x2="583.8" y2="815.0" stroke="#111" stroke-width="1.9"/>
<path d="M580.8 698.6 L577.3 723.1 L585.5 722.9 Z" fill="#111"/>
<path d="M584.4 837.0 L579.7 812.7 L587.9 812.5 Z" fill="#111"/>
<text class="t6" transform="translate(593.2 767.5) rotate(88.5)" text-anchor="middle">6' [183cm]</text>
<line x1="792.8" y1="703.8" x2="886.6" y2="703.8" stroke="#111" stroke-width="1.9"/>
<path d="M770.8 703.8 L795.2 707.9 L795.2 699.7 Z" fill="#111"/>
<path d="M908.6 703.8 L884.2 707.9 L884.2 699.7 Z" fill="#111"/>
<text class="t6" transform="translate(838.6 693.4) rotate(0)" text-anchor="middle">6' [183cm]</text>
</g>
<g class="info" text-anchor="middle">
<text x="932.3" y="829.3">PCM310531</text>
<text x="932.6" y="852.1" letter-spacing="0.1">* 7'-4'' / 224cm</text>
<text x="932.6" y="874.7" letter-spacing="0.16">** 11'-10'' / 360cm</text>
<text x="932.2" y="897.5" letter-spacing="0.1">*** 755.3ft² / 70.2m²</text>
</g>
</svg>
</body>
</html>
